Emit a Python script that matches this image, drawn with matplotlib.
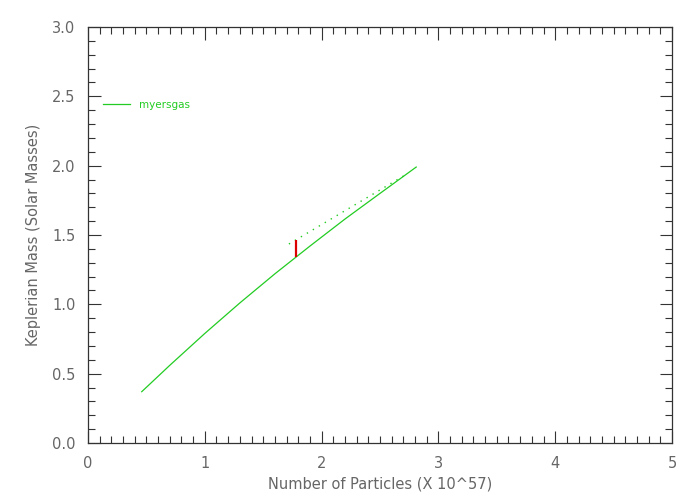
import matplotlib
matplotlib.use('Agg')
import matplotlib.pyplot as plt
from matplotlib.ticker import MultipleLocator

# myersgas curve
particles = [0.46, 0.7, 1.0, 1.3, 1.6, 1.9, 2.2, 2.5, 2.81]
kep_mass = [0.37, 0.56, 0.79, 1.01, 1.22, 1.42, 1.615, 1.80, 1.99]

# dotted comparison line
dot_particles = [1.72, 2.71]
dot_mass = [1.435, 1.93]

# red error bar
err_x = [1.78, 1.78]
err_y = [1.34, 1.465]

green = '#22cc22'
axis_col = '#333333'
label_col = '#666666'

fig = plt.figure(figsize=(7, 5), dpi=100)
ax = fig.add_axes([88 / 700, 57 / 500, 584 / 700, 416 / 500])

ax.plot(particles, kep_mass, color=green, linewidth=0.9, label='myersgas')
ax.plot(dot_particles, dot_mass, color=green, linewidth=1.0, linestyle=(0, (1, 4)))
ax.plot(err_x, err_y, color='#dd0000', linewidth=1.6, solid_capstyle='butt')

ax.set_xlim(0, 5)
ax.set_ylim(0, 3)
ax.xaxis.set_major_locator(MultipleLocator(1))
ax.xaxis.set_minor_locator(MultipleLocator(0.1))
ax.yaxis.set_major_locator(MultipleLocator(0.5))
ax.yaxis.set_minor_locator(MultipleLocator(0.1))
ax.xaxis.set_major_formatter(plt.FuncFormatter(lambda v, p: f'{v:.0f}'))
ax.yaxis.set_major_formatter(plt.FuncFormatter(lambda v, p: f'{v:.1f}'))

ax.tick_params(which='both', direction='in', top=True, right=True,
               color=axis_col, labelcolor=label_col, labelsize=10.5)
ax.tick_params(which='major', length=9, width=0.8, pad=9)
ax.tick_params(which='minor', length=5, width=0.8)
for s in ax.spines.values():
    s.set_color(axis_col)
    s.set_linewidth(0.9)

ax.set_xlabel('Number of Particles (X 10^57)', color=label_col, fontsize=10.5, labelpad=4)
ax.set_ylabel('Keplerian Mass (Solar Masses)', color=label_col, fontsize=10.5, labelpad=8)

leg = ax.legend(loc='upper left', bbox_to_anchor=(0.01, 0.848), frameon=False,
                fontsize=7.5, handlelength=2.6, handletextpad=0.8)
for t in leg.get_texts():
    t.set_color(green)

fig.savefig('out.png', dpi=100)
